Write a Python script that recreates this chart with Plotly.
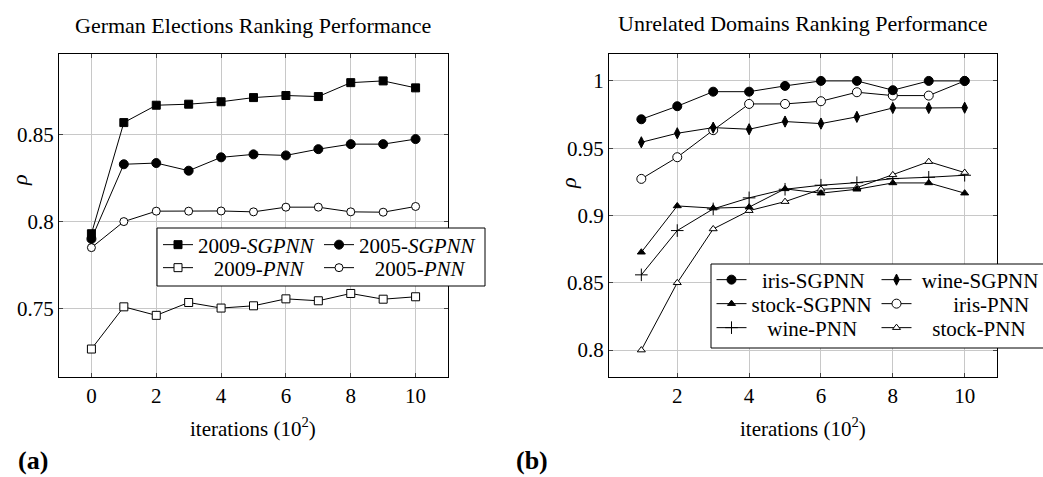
import plotly.graph_objects as go

W, H = 1043, 477
FONT = "Liberation Serif"
FS = 21

# ---------------- data ----------------
iters_a = [0, 1, 2, 3, 4, 5, 6, 7, 8, 9, 10]
a_2009_sgpnn = [0.793, 0.857, 0.867, 0.8676, 0.869, 0.8714, 0.8726, 0.872, 0.880, 0.881, 0.877]
a_2005_sgpnn = [0.790, 0.833, 0.8337, 0.8293, 0.837, 0.8387, 0.8381, 0.8417, 0.8446, 0.8446, 0.8475]
a_2009_pnn = [0.7266, 0.7509, 0.746, 0.7534, 0.7502, 0.7515, 0.7555, 0.7544, 0.7586, 0.7553, 0.7567]
a_2005_pnn = [0.7850, 0.800, 0.806, 0.806, 0.8061, 0.8056, 0.8083, 0.8083, 0.8056, 0.8054, 0.8087]

iters_b = [1, 2, 3, 4, 5, 6, 7, 8, 9, 10]
iris_sgpnn = [0.9715, 0.9812, 0.992, 0.992, 0.9963, 1.0, 1.0, 0.9931, 1.0, 1.0]
wine_sgpnn = [0.9544, 0.9611, 0.9653, 0.9641, 0.9698, 0.9683, 0.9733, 0.9799, 0.9799, 0.9801]
stock_sgpnn = [0.8727, 0.9071, 0.9055, 0.9062, 0.9198, 0.9166, 0.9195, 0.9242, 0.9242, 0.9166]
iris_pnn = [0.9272, 0.9433, 0.9634, 0.9829, 0.9829, 0.9849, 0.9916, 0.9891, 0.9891, 1.0]
wine_pnn = [0.8559, 0.8888, 0.9049, 0.9131, 0.9195, 0.9225, 0.9244, 0.9274, 0.9284, 0.9299]
stock_pnn = [0.800, 0.850, 0.890, 0.9036, 0.9103, 0.9195, 0.9207, 0.9302, 0.940, 0.9319]

a_xticks = [0, 2, 4, 6, 8, 10]
a_yticks = [0.75, 0.8, 0.85]
a_yticklabels = ["0.75", "0.8", "0.85"]
b_xticks = [2, 4, 6, 8, 10]
b_yticks = [0.8, 0.85, 0.9, 0.95, 1.0]
b_yticklabels = ["0.8", "0.85", "0.9", "0.95", "1"]

NB = "\u00a0"


def px(x):
    return x / W


def py(y):
    return 1 - y / H


fig = go.Figure()


def add(x, y, name, symbol, size, xa, ya, legend, rank, fill="black", lw=1):
    fig.add_trace(go.Scatter(
        x=x, y=y, name=name, mode="lines+markers",
        xaxis=xa, yaxis=ya, legend=legend, legendrank=rank,
        line=dict(color="black", width=1),
        marker=dict(symbol=symbol, size=size, color=fill,
                    line=dict(color="black", width=lw)),
    ))


# left chart (draw order so filled markers are on top)
add(iters_a, a_2009_pnn, NB * 3 + "2009-<i>PNN</i>", "square", 8, "x", "y", "legend2", 3, "white")
add(iters_a, a_2005_pnn, NB * 3 + "2005-<i>PNN</i>", "circle", 8, "x", "y", "legend2", 4, "white")
add(iters_a, a_2005_sgpnn, "2005-<i>SGPNN</i>", "circle", 9, "x", "y", "legend", 2)
add(iters_a, a_2009_sgpnn, "2009-<i>SGPNN</i>", "square", 8, "x", "y", "legend", 1)

# right chart
add(iters_b, iris_pnn, NB * 7 + "iris-PNN", "circle", 9, "x2", "y2", "legend4", 4, "white")
add(iters_b, wine_pnn, NB * 3 + "wine-PNN", "cross-thin-open", 9, "x2", "y2", "legend5", 5, "black")
add(iters_b, stock_pnn, NB * 3 + "stock-PNN", "triangle-up", 7, "x2", "y2", "legend5", 6, "white")
add(iters_b, stock_sgpnn, "stock-SGPNN", "triangle-up", 7, "x2", "y2", "legend4", 3)
add(iters_b, wine_sgpnn, NB + "wine-SGPNN", "diamond-tall", 8, "x2", "y2", "legend3", 2)
add(iters_b, iris_sgpnn, NB * 2 + "iris-SGPNN", "circle", 9, "x2", "y2", "legend3", 1)

axis_common = dict(
    showline=True, linecolor="black", linewidth=1, mirror="ticks",
    ticks="inside", ticklen=4, tickcolor="#444", tickwidth=1,
    showgrid=True, gridcolor="#c8c8c8", gridwidth=1, zeroline=False,
    tickfont=dict(family=FONT, size=FS, color="black"),
)

fig.update_layout(
    width=W, height=H, autosize=False,
    margin=dict(l=0, r=0, t=0, b=0),
    paper_bgcolor="white", plot_bgcolor="white",
    font=dict(family=FONT, size=FS, color="black"),
    xaxis=dict(domain=[px(59), px(448)], range=[-1, 11], tickvals=a_xticks, anchor="y", **axis_common),
    yaxis=dict(domain=[py(377), py(54)], range=[0.7105, 0.8965], tickvals=a_yticks,
               ticktext=a_yticklabels, anchor="x", **axis_common),
    xaxis2=dict(domain=[px(609), px(997)], range=[0.1, 10.9], tickvals=b_xticks, anchor="y2", **axis_common),
    yaxis2=dict(domain=[py(377), py(54)], range=[0.78, 1.02], tickvals=b_yticks,
                ticktext=b_yticklabels, anchor="x2", **axis_common),
)

leg_common = dict(orientation="h", xanchor="left", yanchor="middle",
                  bgcolor="rgba(0,0,0,0)", borderwidth=0,
                  font=dict(family=FONT, size=FS, color="black"),
                  entrywidthmode="pixels", itemwidth=30, traceorder="normal")

fig.update_layout(
    legend=dict(x=px(158), y=py(245), entrywidth=116, **leg_common),
    legend2=dict(x=px(158), y=py(268), entrywidth=116, **leg_common),
    legend3=dict(x=px(711.5), y=py(280), entrywidth=120, **leg_common),
    legend4=dict(x=px(711.5), y=py(304), entrywidth=120, **leg_common),
    legend5=dict(x=px(711.5), y=py(328), entrywidth=120, **leg_common),
)

fig.add_shape(type="rect", xref="paper", yref="paper",
              x0=px(157), x1=px(485), y0=py(286), y1=py(228),
              fillcolor="white", line=dict(color="black", width=1), layer="above")
fig.add_shape(type="rect", xref="paper", yref="paper",
              x0=px(711), x1=px(1045), y0=py(348), y1=py(264),
              fillcolor="white", line=dict(color="black", width=1), layer="above")


def ann(text, x, y, size=FS, angle=0, xanchor="center"):
    fig.add_annotation(text=text, x=px(x), y=py(y), xref="paper", yref="paper",
                       showarrow=False, textangle=angle, xanchor=xanchor, yanchor="middle",
                       font=dict(family=FONT, size=size, color="black"))


ann("German Elections Ranking Performance", 253, 25, 22)
ann("Unrelated Domains Ranking Performance", 803, 24, 22)
ann("iterations (10<sup>2</sup>)", 253, 427)
ann("iterations (10<sup>2</sup>)", 803, 427)
ann("<i>ρ</i>", 19, 180, size=22, angle=-90)
ann("<i>ρ</i>", 568, 183, size=22, angle=-90)
ann("<b>(a)</b>", 16, 460, size=26, xanchor="left")
ann("<b>(b)</b>", 514, 460, size=26, xanchor="left")

fig.write_html("out.html")
